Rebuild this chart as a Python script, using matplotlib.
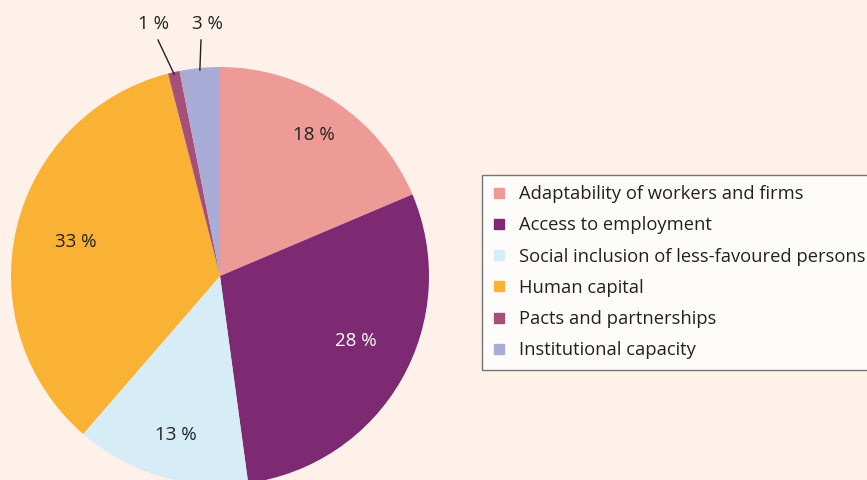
import numpy as np
import matplotlib.pyplot as plt
from matplotlib.lines import Line2D

# 数据
categories = ['Adaptability of workers and firms', 'Access to employment',
              'Social inclusion of less-favoured persons', 'Human capital',
              'Pacts and partnerships', 'Institutional capacity']
shares = [18.6, 29.2, 13.5, 34.6, 0.9, 3.1]
pct_labels = ['18 %', '28 %', '13 %', '33 %', '1 %', '3 %']
colors = ['#EE9A96', '#7E2A72', '#D6ECF7', '#F9B233', '#A64F79', '#A8ACD6']

bg = '#FDF1E9'
plt.rcParams['font.family'] = ['Open Sans', 'DejaVu Sans']

fig = plt.figure(figsize=(8.67, 4.80), dpi=100, facecolor=bg)
ax = fig.add_axes([0, 0, 1, 1])
ax.set_facecolor(bg)

cx, cy, r = 220, 276, 209
wedges, _ = ax.pie(shares, colors=colors, startangle=90, counterclock=False,
                   center=(cx, -cy), radius=r, wedgeprops=dict(linewidth=0))
# pie 会改坐标范围, 之后再设
ax.set_xlim(0, 867)
ax.set_ylim(-480, 0)
ax.set_aspect('equal')
ax.axis('off')

# 百分比标签 (距离, 角度微调)
dist = [0.81, 0.72, 0.79, 0.71]
dang = [0, 4, 1, 0]
tcol = ['#222222', 'white', '#222222', '#222222']
for i in range(4):
    w = wedges[i]
    ang = np.deg2rad((w.theta1 + w.theta2) / 2 + dang[i])
    x = cx + dist[i] * r * np.cos(ang)
    y = -cy + dist[i] * r * np.sin(ang)
    ax.text(x, y, pct_labels[i], ha='center', va='center', fontsize=13.5,
            color=tcol[i])

# 小扇区的引线标签
for i, tx in zip([4, 5], [153, 207]):
    w = wedges[i]
    ang = np.deg2rad((w.theta1 + w.theta2) / 2)
    x0 = cx + 0.99 * r * np.cos(ang)
    y0 = -cy + 0.99 * r * np.sin(ang)
    ax.plot([x0, tx + (5 if i == 4 else -6)], [y0, -40], color='#222222', lw=1)
    ax.text(tx, -24, pct_labels[i], ha='center', va='center', fontsize=13.5,
            color='#222222')

handles = [Line2D([], [], marker='s', ls='', color=c, markersize=7) for c in colors]
leg = ax.legend(handles, categories, loc='upper left',
                bbox_to_anchor=(482 / 867, 1 - 175 / 480),
                bbox_transform=fig.transFigure, frameon=True, fancybox=False,
                fontsize=13.2, handlelength=0.7, handletextpad=0.75,
                labelspacing=0.72, borderpad=0.56, borderaxespad=0)
leg.get_frame().set_edgecolor('#555555')
leg.get_frame().set_linewidth(1)
leg.get_frame().set_facecolor('white')
for t in leg.get_texts():
    t.set_color('#222222')

fig.savefig('out.png', dpi=100, facecolor=bg)
